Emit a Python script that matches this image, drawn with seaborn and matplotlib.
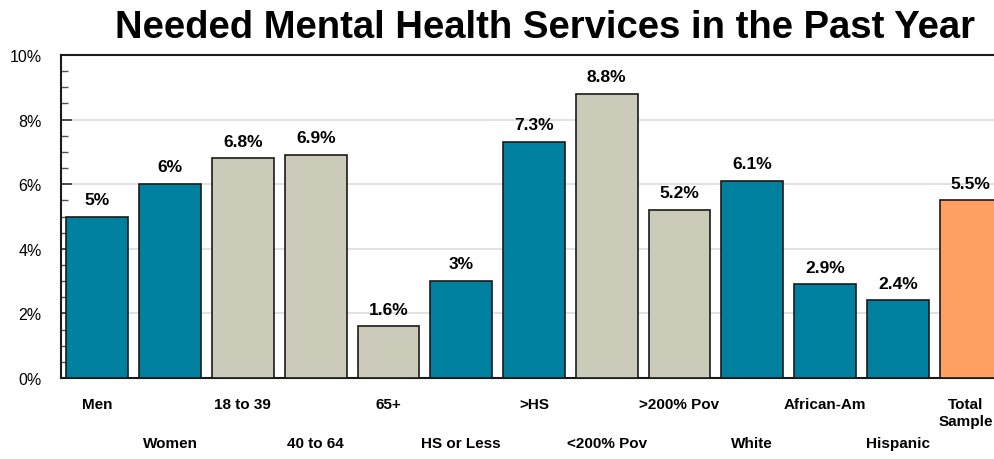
import matplotlib
matplotlib.use("Agg")
import matplotlib.pyplot as plt
import matplotlib.transforms as mtransforms
import seaborn as sns
import pandas as pd
from matplotlib.ticker import MultipleLocator, FuncFormatter

# Chart values
categories = ['Men', 'Women', '18 to 39', '40 to 64', '65+', 'HS or Less', '>HS',
              '<200% Pov', '>200% Pov', 'White', 'African-Am', 'Hispanic', 'Total\nSample']
values = [5, 6, 6.8, 6.9, 1.6, 3, 7.3, 8.8, 5.2, 6.1, 2.9, 2.4, 5.5]
groups = ['blue', 'blue', 'beige', 'beige', 'beige', 'blue', 'blue',
          'beige', 'beige', 'blue', 'blue', 'blue', 'total']

PALETTE = {'blue': '#00809f', 'beige': '#cccbb9', 'total': '#ffa062'}

df = pd.DataFrame({'cat': categories, 'val': values, 'grp': groups})

sns.set_theme(style="white")
plt.rcParams['font.family'] = ['Liberation Sans', 'DejaVu Sans']
plt.rcParams['text.color'] = 'black'
plt.rcParams['xtick.color'] = 'black'
plt.rcParams['ytick.color'] = 'black'

fig = plt.figure(figsize=(9.95, 4.6), dpi=100)
ax = fig.add_axes([61 / 995, 1 - 379 / 460, 946 / 995, 323 / 460])

sns.barplot(data=df, x='cat', y='val', hue='grp', palette=PALETTE, dodge=False,
            width=0.85, edgecolor='#1a1a1a', linewidth=1.2, legend=False,
            saturation=1, ax=ax, zorder=3)

for c in ax.containers:
    labels = [f"{v:g}%" if v == v else "" for v in c.datavalues]
    ax.bar_label(c, labels=labels, padding=7, fontsize=12.5, fontweight='bold',
                 color='black')

ax.set_xlim(-0.5, len(categories) - 0.5)
ax.set_ylim(0, 10)
ax.yaxis.set_major_locator(MultipleLocator(2))
ax.yaxis.set_minor_locator(MultipleLocator(0.5))
ax.yaxis.set_major_formatter(FuncFormatter(lambda v, p: f"{v:g}%"))
ax.grid(axis='y', which='major', color='#dddddd', linewidth=1.2, zorder=0)
ax.set_axisbelow(True)

ax.tick_params(axis='y', which='major', direction='in', length=8, width=1.2,
               color='#333333', labelsize=11.5, pad=14, left=True)
ax.tick_params(axis='y', which='minor', direction='in', length=5, width=1,
               color='#555555', left=True)
ax.tick_params(axis='x', length=0, labelsize=11)

ax.set_xticks(range(len(categories)))
ax.set_xticklabels(categories, fontweight='bold')
for i, t in enumerate(ax.xaxis.get_major_ticks()):
    t.set_pad(42 if i % 2 else 14)

# nudge the two-line last label so it stays inside the figure
last = ax.get_xticklabels()[-1]
last.set_transform(last.get_transform() + mtransforms.ScaledTranslation(-5 / 100, 0, fig.dpi_scale_trans))

for s in ['left', 'bottom', 'top', 'right']:
    ax.spines[s].set_color('#1a1a1a')
    ax.spines[s].set_linewidth(1.5)

ax.set_xlabel('')
ax.set_ylabel('')
fig.suptitle('Needed Mental Health Services in the Past Year', x=0.548, y=0.978,
             fontsize=27.5, fontweight='bold')

fig.savefig('out.png', dpi=100)
